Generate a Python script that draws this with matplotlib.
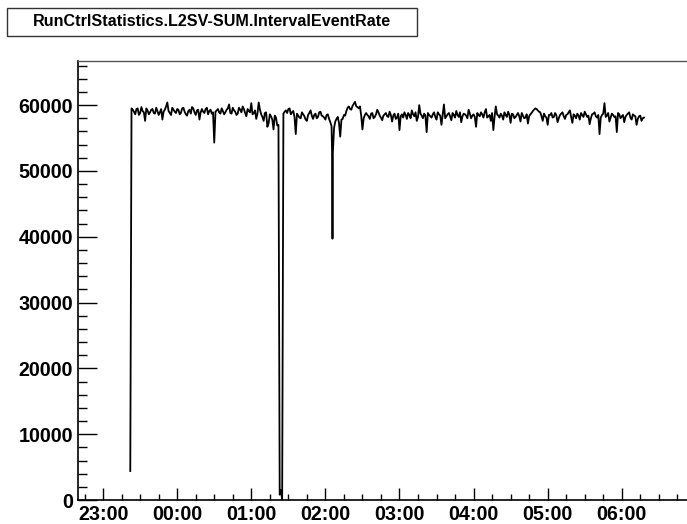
import numpy as np
import pandas as pd
import matplotlib
matplotlib.use('Agg')
import matplotlib.pyplot as plt
import matplotlib.dates as mdates
from matplotlib.patches import Rectangle

title = 'RunCtrlStatistics.L2SV-SUM.IntervalEventRate'

# readings on the even minutes, starting 23:22
start = '2000-01-01 23:22'
rate = [
    4400, 59300, 58600, 59500, 58800, 59100, 57600, 59200, 58900, 59400,
    58700, 59100, 58900, 57800, 59300, 60400, 58800, 59600, 59000, 59400,
    58600, 59500, 59000, 58400, 59300, 59700, 58900, 59200, 57800, 59400,
    58800, 59600, 59100, 58700, 54300, 59200, 58900, 59500, 58600, 59300,
    60100, 58700, 59200, 58500, 59600, 58900, 59400, 58300, 59100, 60300,
    58800, 57900, 60400, 58600, 57600, 58900, 57200, 58300, 56300, 58100,
    57000, 1500, 58700, 59200, 59400, 58600, 59100, 55600, 58400, 58000,
    58600, 57800, 58500, 59200, 57900, 58700, 58200, 59000, 58300, 57800,
    58600, 57400, 52500, 57500, 58200, 55200, 57900, 58400, 59600, 59400,
    59900, 60500, 59700, 59800, 56300, 58500, 58500, 57900, 58800, 58200,
    59300, 58400, 57700, 58600, 58300, 59000, 57500, 58700, 58100, 56200,
    58600, 58900, 57900, 58500, 59200, 58300, 57600, 60000, 58400, 58700,
    55900, 58500, 58100, 58900, 57800, 58600, 57000, 60100, 58300, 58800,
    57700, 58500, 59100, 58200, 57400, 58700, 58400, 59300, 58000, 58600,
    56700, 58500, 58900, 58100, 59400, 58300, 57600, 56200, 59800, 58400,
    58700, 57800, 58500, 59000, 57300, 58600, 58200, 58800, 57500, 58400,
    58100, 57200, 58600, 59100, 59500, 59200, 58900, 57600, 58300, 57000,
    58500, 58100, 58800, 57400, 58500, 58900, 57900, 58600, 59200, 57300,
    58400, 58700, 57800, 58500, 59000, 58200, 57100, 58600, 58900, 58100,
    55600, 58500, 60300, 58400, 57500, 58700, 58200, 55900, 58600, 58300,
    57400, 58500, 58900, 57800, 58400, 57000, 58300, 57600, 58100,
]

# readings on the odd minutes, starting 23:23
start_mid = '2000-01-01 23:23'
rate_mid = [
    59500, 59000, 59400, 58500, 59700, 58900, 59500, 58600, 59300, 58800,
    59600, 58500, 59400, 59000, 59800, 59100, 58500, 59300, 58800, 59300,
    58800, 59600, 58600, 59100, 58700, 59500, 58500, 59300, 58900, 59000,
    59400, 58600, 59300, 58900, 59000, 59400, 58700, 59100, 58900, 59500,
    58800, 59600, 59000, 58700, 59300, 59800, 58800, 59400, 58900, 58600,
    59200, 58700, 59300, 58200, 58800, 56700, 58600, 57800, 58400, 56900,
    800, 0, 59000, 58800, 59500, 58900, 58200, 58700, 58100, 58900,
    58300, 57600, 58800, 58400, 58500, 58000, 58900, 58400, 58100, 58500,
    57900, 56800, 56500, 57900, 57300, 57800, 58500, 59100, 59800, 59300,
    60200, 59800, 59500, 58400, 58000, 58800, 58300, 58700, 58000, 58600,
    58900, 58100, 58400, 58800, 58200, 58500, 58400, 57900, 58700, 58300,
    58100, 58500, 58800, 58000, 58600, 58900, 58200, 58700, 58000, 58400,
    58800, 58300, 58600, 58200, 58900, 58400, 58500, 58000, 58600, 58300,
    58800, 58100, 58500, 58900, 58300, 58600, 58000, 58700, 58400, 58200,
    58800, 58300, 58600, 58900, 58100, 58500, 58800, 58200, 58600, 58100,
    58400, 58900, 58200, 58500, 58700, 58000, 58500, 58300, 58800, 58000,
    58600, 58300, 58800, 59300, 59400, 59000, 58300, 58700, 58100, 58500,
    58800, 58200, 58500, 58000, 58700, 58300, 58500, 58900, 58200, 58600,
    58000, 58400, 58800, 58200, 58600, 58400, 58000, 58700, 58300, 58500,
    58100, 58700, 58200, 58800, 58100, 58500, 58300, 58800, 58000, 58500,
    58200, 58700, 58100, 58600, 58300, 57900, 58400, 58000,
]

# extra readings inside the drop at 02:05
dip_times = ['2000-01-02 02:05:30', '2000-01-02 02:05:45']
dip_rate = [52000, 39700]

df = pd.concat([
    pd.DataFrame({'t': pd.date_range(start, periods=len(rate), freq='2min'), 'rate': rate}),
    pd.DataFrame({'t': pd.date_range(start_mid, periods=len(rate_mid), freq='2min'), 'rate': rate_mid}),
    pd.DataFrame({'t': pd.to_datetime(dip_times), 'rate': dip_rate}),
])
df = df.sort_values('t')

plt.rcParams['font.family'] = ['Liberation Sans', 'DejaVu Sans']

fig = plt.figure(figsize=(6.87, 5.24), dpi=100)
ax = fig.add_axes([78/687, 24/524, 609/687, 439/524])

ax.plot(df['t'], df['rate'], color='black', lw=1.3)

ax.set_ylim(0, 66700)
ax.set_xlim(pd.Timestamp('2000-01-01 22:39:40'), pd.Timestamp('2000-01-02 06:52:50'))

ax.yaxis.set_major_locator(plt.MultipleLocator(10000))
ax.yaxis.set_minor_locator(plt.MultipleLocator(2000))
ax.xaxis.set_major_locator(mdates.HourLocator())
ax.xaxis.set_minor_locator(mdates.MinuteLocator(byminute=[0, 15, 30, 45]))
ax.xaxis.set_major_formatter(mdates.DateFormatter('%H:%M'))

ax.tick_params(axis='y', which='major', direction='in', length=13.7, width=1, pad=3.6)
ax.tick_params(axis='y', which='minor', direction='in', length=6.5, width=1)
ax.tick_params(axis='x', which='major', direction='in', length=8.6, width=1, pad=3.5)
ax.tick_params(axis='x', which='minor', direction='in', length=4.3, width=1)
for lab in ax.get_xticklabels() + ax.get_yticklabels():
    lab.set_fontweight('bold')
    lab.set_fontsize(14.2)

ax.spines['right'].set_visible(False)
for s in ['left', 'bottom']:
    ax.spines[s].set_linewidth(1.2)
ax.spines['top'].set_linewidth(1)
ax.spines['top'].set_color('#555555')

# title box
fig.patches.append(Rectangle((7/687, 1 - 36/524), 410/687, 28/524, transform=fig.transFigure,
                             facecolor='white', edgecolor='#333333', lw=1))
fig.text(212/687, 1 - 22/524, title, ha='center', va='center', fontsize=11.6, fontweight='bold')

fig.savefig('out.png', dpi=100)
